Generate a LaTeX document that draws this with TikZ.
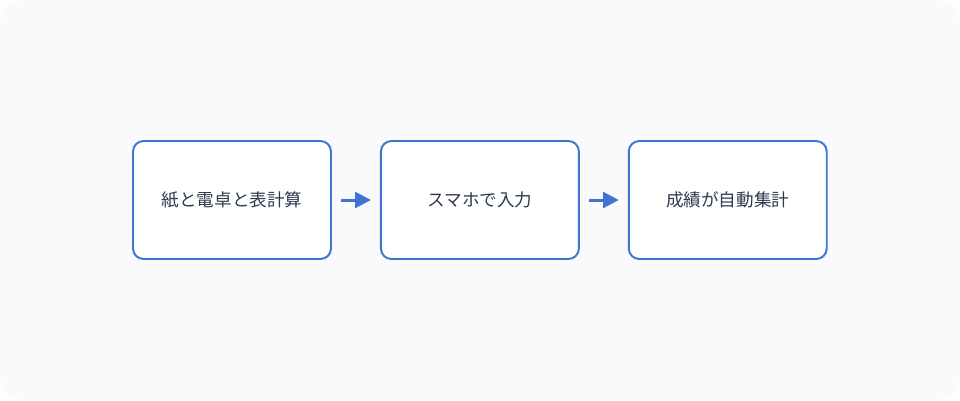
\documentclass[tikz,border=0pt]{standalone}
\usepackage{fontspec}
\newfontfamily\cjk{Noto Sans CJK JP}
\usetikzlibrary{positioning,arrows.meta}
\definecolor{bgfill}{HTML}{F8FAFC}
\definecolor{boxline}{HTML}{4273D3}
\definecolor{boxtext}{HTML}{2F3A4F}
\begin{document}
\begin{tikzpicture}[x=0.02cm,y=-0.02cm]
  \tikzset{stage/.style = {draw=boxline,line width=1.1pt,fill=white,rounded corners=6pt,
      minimum width=3.96cm,minimum height=2.36cm,font=\cjk\fontsize{10}{12}\selectfont,text=boxtext}}
  \tikzset{flow/.style = {draw=boxline,line width=1.7pt,-{Triangle[length=9pt,width=9pt]}}}
  % background
  \fill[bgfill,rounded corners=12pt] (0,0) rectangle (960,400);
  \useasboundingbox (0,0) rectangle (960,400);
  % stages
  \node[stage] (paper) at (232,200) {紙と電卓と表計算};
  \node[stage,right=0.96cm of paper] (phone) {スマホで入力};
  \node[stage,right=0.96cm of phone] (auto) {成績が自動集計};
  % arrows
  \draw[flow] ([xshift=0.18cm]paper.east) -- ([xshift=-0.18cm]phone.west);
  \draw[flow] ([xshift=0.18cm]phone.east) -- ([xshift=-0.18cm]auto.west);
\end{tikzpicture}
\end{document}
